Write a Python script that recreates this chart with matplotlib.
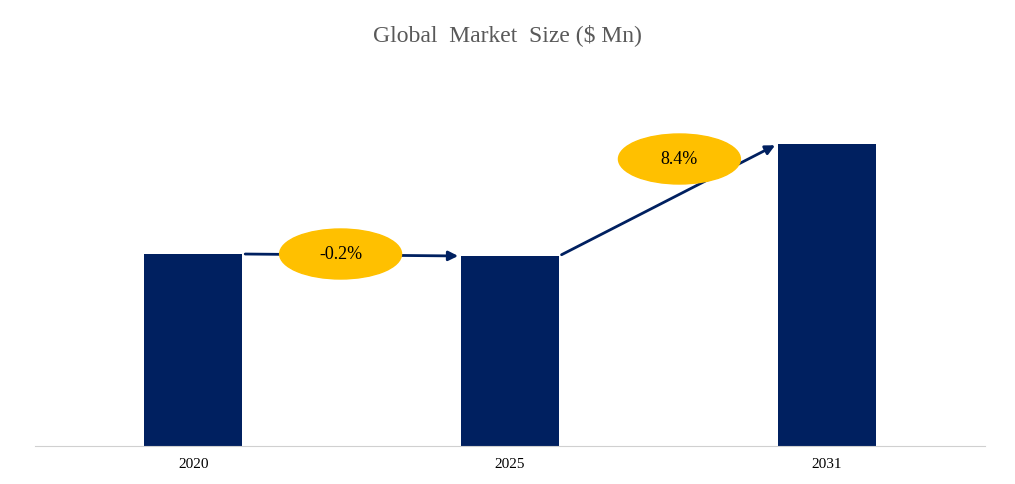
import matplotlib
matplotlib.use("Agg")
import matplotlib.pyplot as plt
from matplotlib.patches import Ellipse

years = ["2020", "2025", "2031"]
values = [192, 190, 302]
growth = ["-0.2%", "8.4%"]

plt.rcParams['font.family'] = ['Liberation Serif', 'DejaVu Serif']
fig = plt.figure(figsize=(10.15, 4.85), dpi=100)
ax = fig.add_axes([35/1015, 1-447/485, 950/1015, 402/485])
x = list(range(len(years)))
w = 0.31
ax.bar(x, values, width=w, color="#002060")
ax.set_xlim(-0.5, 2.5)
ax.set_ylim(0, 402)
ax.set_xticks(x)
ax.set_xticklabels(years, fontsize=11)
ax.tick_params(length=0, pad=8)
ax.set_yticks([])
for s in ["top", "right", "left"]:
    ax.spines[s].set_visible(False)
ax.spines["bottom"].set_color("#d0d0d0")

for i in range(len(years)-1):
    x0, y0 = x[i] + w/2, values[i]
    x1, y1 = x[i+1] - w/2, values[i+1]
    ax.annotate("", xy=(x1, y1), xytext=(x0, y0),
                arrowprops=dict(arrowstyle="-|>", color="#002060", lw=2, mutation_scale=14))
centers = [(x[0] + w/2 + 0.31, values[0]), (x[1] + w/2 + 0.38, 287)]
for (cx, cy), g in zip(centers, growth):
    ax.add_patch(Ellipse((cx, cy), 0.385, 50, color="#FFC000", zorder=3))
    ax.text(cx, cy, g, ha="center", va="center", fontsize=13, zorder=4)

fig.text(0.5, 1-35/485, "Global  Market  Size ($ Mn)", ha="center", va="center",
         fontsize=17, color="#595959")
fig.savefig("out.png", dpi=100)
